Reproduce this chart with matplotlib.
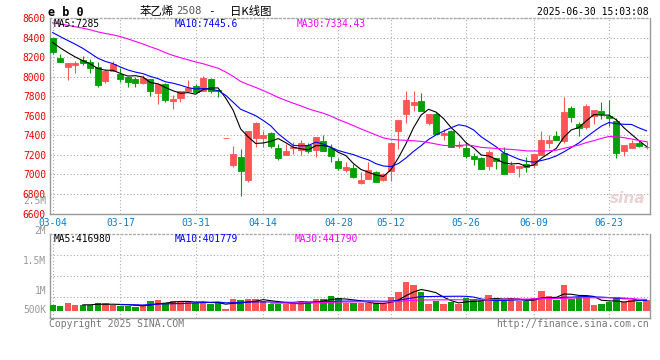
import numpy as np
import pandas as pd
import matplotlib
matplotlib.use("Agg")
import matplotlib.pyplot as plt
import matplotlib.transforms as mtransforms

# trading days 2025-03-04 .. 2025-06-30 (exchange holidays removed)
holidays = ["2025-04-04", "2025-05-01", "2025-05-02", "2025-05-05", "2025-06-02"]
days = [d for d in pd.bdate_range("2025-03-04", "2025-06-30") if d.strftime("%Y-%m-%d") not in holidays]

opens = [8400, 8195, 8102, 8116, 8171, 8154, 8102, 7952, 8058, 8027,
         7996, 7973, 7935, 7973, 7829, 7928, 7755, 7778, 7849, 7904,
         7853, 7979, 7862, 7374, 7094, 7179, 6940, 7377, 7377, 7422,
         7271, 7200, 7265, 7251, 7302, 7254, 7343, 7271, 7138, 7049,
         7066, 6912, 6957, 7025, 6947, 7032, 7449, 7613, 7706, 7754,
         7528, 7620, 7401, 7446, 7295, 7268, 7193, 7172, 7090, 7165,
         7224, 7029, 7070, 7107, 7094, 7203, 7326, 7394, 7340, 7682,
         7511, 7483, 7593, 7651, 7597, 7545, 7244, 7265, 7323, 7280]
highs = [8400, 8236, 8144, 8161, 8215, 8181, 8150, 8078, 8161, 8092,
         8000, 7996, 8013, 7980, 7921, 7938, 7808, 7856, 7969, 7921,
         8007, 7985, 7870, 7374, 7289, 7261, 7446, 7538, 7442, 7430,
         7312, 7316, 7330, 7347, 7323, 7384, 7408, 7306, 7169, 7124,
         7111, 7025, 7131, 7036, 7015, 7333, 7559, 7856, 7856, 7836,
         7620, 7637, 7466, 7450, 7343, 7330, 7220, 7178, 7251, 7170,
         7282, 7135, 7090, 7179, 7210, 7449, 7401, 7446, 7795, 7699,
         7535, 7716, 7661, 7743, 7760, 7579, 7299, 7350, 7340, 7343]
lows = [8230, 8147, 7962, 8041, 8116, 8034, 7890, 7932, 8058, 7942,
        7897, 7897, 7921, 7805, 7716, 7737, 7668, 7737, 7849, 7832,
        7853, 7832, 7791, 7374, 7073, 6776, 6923, 7278, 7282, 7275,
        7152, 7200, 7213, 7200, 7217, 7176, 7244, 7131, 7049, 7025,
        6967, 6906, 6957, 6926, 6936, 6936, 7261, 7521, 7651, 7644,
        7501, 7415, 7357, 7282, 7271, 7169, 7094, 7059, 7049, 7059,
        7001, 7029, 6977, 7029, 7063, 7203, 7271, 7347, 7323, 7538,
        7391, 7463, 7518, 7562, 7497, 7169, 7189, 7265, 7278, 7258]
closes = [8250, 8147, 8144, 8137, 8140, 8085, 7911, 8058, 8133, 7979,
          7949, 7931, 7986, 7849, 7921, 7757, 7767, 7856, 7884, 7839,
          7990, 7853, 7858, 7374, 7210, 7032, 7446, 7521, 7398, 7295,
          7172, 7237, 7285, 7323, 7241, 7384, 7244, 7193, 7066, 7076,
          6977, 6943, 7046, 6926, 7005, 7323, 7559, 7757, 7743, 7651,
          7620, 7415, 7425, 7282, 7302, 7189, 7162, 7059, 7231, 7134,
          7008, 7100, 7087, 7073, 7210, 7353, 7353, 7347, 7641, 7586,
          7470, 7702, 7661, 7616, 7582, 7224, 7299, 7326, 7291, 7285]
# closes before 03-04, only needed for the moving averages
prior_close = [8520, 8540, 8580, 8560, 8600, 8550, 8530, 8570, 8510,
               8650, 8720, 8760, 8740, 8700, 8770,
               8600, 8560, 8520, 8500, 8530,
               8560, 8540, 8520, 8560, 8585,
               8420, 8386, 8360, 8329]
volumes = [223, 183, 301, 223, 223, 223, 301, 301, 223, 183,
           183, 157, 223, 380, 419, 301, 380, 340, 380, 288,
           340, 249, 340, 65, 458, 419, 458, 458, 380, 249,
           249, 249, 288, 340, 340, 458, 458, 590, 500, 288,
           288, 288, 288, 288, 249, 537, 734, 1140, 1009, 734,
           280, 364, 280, 322, 280, 490, 448, 407, 616, 448,
           364, 490, 364, 364, 490, 785, 575, 407, 1014, 448,
           550, 550, 235, 270, 328, 520, 350, 420, 360, 435]
volumes = [v * 1000 for v in volumes]

tick_dates = ["03-04", "03-17", "03-31", "04-14", "04-28", "05-12", "05-26", "06-09", "06-23"]
price_ticks = list(range(6600, 8601, 200))
price_ma_text = ["MA5:7285", "MA10:7445.6", "MA30:7334.43"]
vol_ma_text = ["MA5:416980", "MA10:401779", "MA30:441790"]

RED = "#ff5555"
GREEN = "#00a000"
GRID = "#aaaaaa"
MONO = "DejaVu Sans Mono"
CJK = ["Noto Sans CJK SC", "DejaVu Sans"]

n = len(closes)
x = np.arange(n)
day_labels = [d.strftime("%m-%d") for d in days]
tick_pos = [day_labels.index(t) for t in tick_dates]
colors = [RED if c >= o else GREEN for o, c in zip(opens, closes)]

allc = pd.Series(prior_close + closes, dtype=float)
ma5 = allc.rolling(5).mean().values[-n:]
ma10 = allc.rolling(10).mean().values[-n:]
ma30 = allc.rolling(30).mean().values[-n:]
vol = pd.Series(volumes, dtype=float)
vma5 = vol.rolling(5).mean().values
vma10 = vol.rolling(10).mean().values
vma30 = vol.rolling(30).mean().values

W, H = 660, 360
fig = plt.figure(figsize=(W / 100, H / 100), dpi=100)


def px(x0, y0, x1, y1):
    return [x0 / W, 1 - y1 / H, (x1 - x0) / W, (y1 - y0) / H]


ax = fig.add_axes(px(50, 18, 650, 213.5))
axv = fig.add_axes(px(50, 234.3, 650, 318))
xlim = (-0.36, -0.36 + 600 / 7.517)

# candles
bottoms = [min(o, c) for o, c in zip(opens, closes)]
heights = [abs(c - o) for o, c in zip(opens, closes)]
ax.vlines(x, lows, highs, colors=colors, linewidth=0.8, zorder=3)
ax.bar(x, heights, width=0.8, bottom=bottoms, color=colors, edgecolor=colors,
       linewidth=0.6, zorder=4)
ax.plot(x, ma5, color="black", lw=0.8, zorder=5)
ax.plot(x, ma10, color="#0000ff", lw=0.8, zorder=5)
ax.plot(x, ma30, color="#ff00ff", lw=0.8, zorder=5)

ax.set_xlim(*xlim)
ax.set_ylim(6600, 8600)
ax.set_yticks(price_ticks)
ax.set_yticklabels([str(p) for p in price_ticks], color="#ee0000",
                   fontfamily=MONO, fontsize=6.9)
lift = mtransforms.ScaledTranslation(0, 1.5 / 100, fig.dpi_scale_trans)
for lab in ax.get_yticklabels():
    lab.set_transform(lab.get_transform() + lift)
ax.set_xticks(tick_pos)
ax.set_xticklabels(tick_dates, color="#0a7fcf", fontfamily=MONO, fontsize=6.9)
ax.tick_params(length=0, pad=3)
ax.grid(True, color=GRID, linestyle=(0, (1, 2)), linewidth=0.8)
ax.set_axisbelow(True)

axv.bar(x, volumes, width=0.85, color=colors, zorder=3)
axv.plot(x, vma5, color="black", lw=0.8, zorder=4)
axv.plot(x, vma10, color="#0000ff", lw=0.8, zorder=4)
axv.plot(x, vma30, color="#ff00ff", lw=0.8, zorder=4)
axv.set_xlim(*xlim)
axv.set_ylim(-0.287e6, 3.0e6)
axv.set_xticks(tick_pos)
axv.set_xticklabels([])
axv.set_yticks([])
axv.tick_params(length=0)
axv.grid(True, axis="x", color=GRID, linestyle=(0, (1, 2)), linewidth=0.8)
for f in (0.25, 0.5, 0.75):
    axv.axhline(-0.287e6 + f * 3.287e6, color=GRID, linestyle=(0, (1, 2)), linewidth=0.8)
axv.set_axisbelow(True)

for a in (ax, axv):
    for s in a.spines.values():
        s.set_color("#999999")
        s.set_linewidth(1)
    a.spines["top"].set_linestyle((0, (1, 2)))
    a.spines["top"].set_color(GRID)


def t(xp, yp, s, **kw):
    kw.setdefault("fontfamily", MONO)
    kw.setdefault("fontsize", 6.9)
    kw.setdefault("va", "center")
    fig.text(xp / W, 1 - yp / H, s, **kw)


# header
t(48, 12, "e b 0", fontweight="bold", fontsize=8.5)
t(140, 11, "苯乙烯", fontfamily=CJK, fontsize=8.2)
t(176, 11.5, "2508", color="#555555", fontsize=7.6)
t(211, 11, "-", ha="center", fontsize=8)
t(230, 11, "日K线图", fontfamily=CJK, fontsize=8.2)
t(649, 12, "2025-06-30 15:03:08", ha="right", fontsize=7)

# moving-average readouts
for xp, s, c in zip([54, 175, 297], price_ma_text, ["black", "#0000ff", "#ff00ff"]):
    t(xp, 24, s, color=c)
for xp, s, c in zip([54, 175, 295], vol_ma_text, ["black", "#0000ff", "#ff00ff"]):
    t(xp, 238.5, s, color=c)

# volume axis labels
for lab, yp in [("2.5M", 201), ("2M", 231), ("1.5M", 261), ("1M", 290.7), ("500K", 310)]:
    t(46, yp, lab, ha="right", color="#999999")

t(628, 198, "sina", color="#e8c8c8", fontfamily="DejaVu Sans", fontsize=11,
  fontweight="bold", style="italic", ha="center", alpha=0.8)

t(49, 324, "Copyright 2025 SINA.COM", color="#777777", fontsize=7)
t(649, 324, "http://finance.sina.com.cn", ha="right", color="#777777", fontsize=7)

fig.savefig("out.png", dpi=100)
